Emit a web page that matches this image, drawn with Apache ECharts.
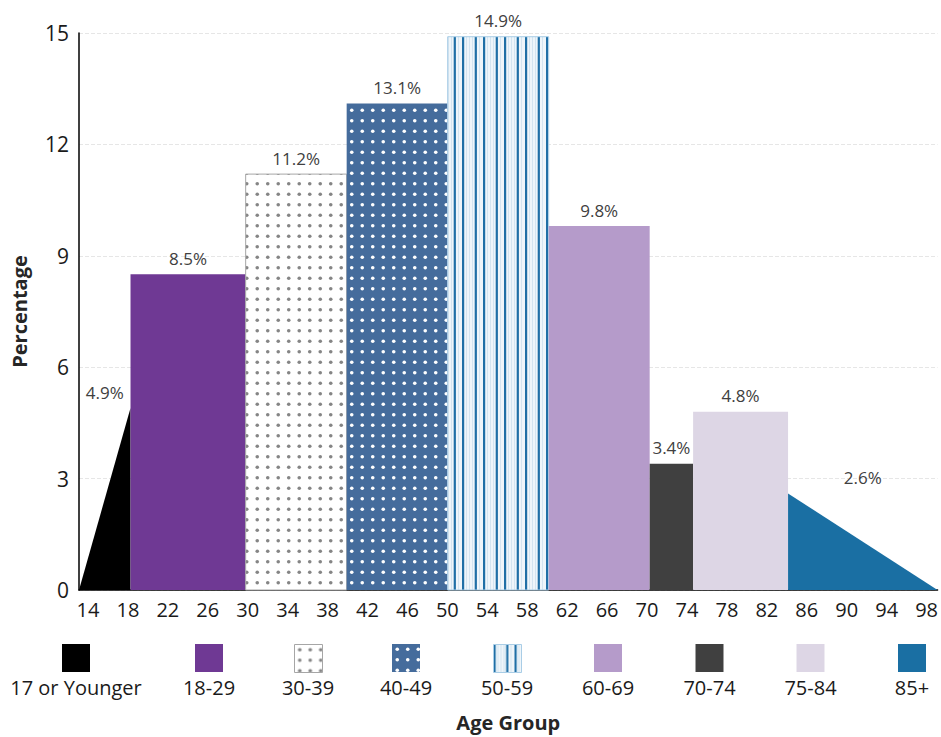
<!DOCTYPE html>
<html>
<head>
<meta charset="utf-8">
<script src="https://cdn.jsdelivr.net/npm/echarts@6/dist/echarts.min.js"></script>
<style>
html,body{margin:0;padding:0;background:#ffffff;}
#chart{width:941px;height:737px;}
</style>
</head>
<body>
<div id="chart"></div>
<script>
// ---------------- data ----------------
const groups = ['17 or Younger', '18-29', '30-39', '40-49', '50-59', '60-69', '70-74', '75-84', '85+'];
const binStart = [13.5, 18.6, 30, 40, 50, 60, 70, 74.3, 83.7];
const binEnd = [18.6, 30, 40, 50, 60, 70, 74.3, 83.7, 98.5];
const percents = [4.9, 8.5, 11.2, 13.1, 14.9, 9.8, 3.4, 4.8, 2.6];
const shapes = ['rise', 'rect', 'rect', 'rect', 'rect', 'rect', 'rect', 'rect', 'fall'];
const xTickLabels = [14, 18, 22, 26, 30, 34, 38, 42, 46, 50, 54, 58, 62, 66, 70, 74, 78, 82, 86, 90, 94, 98];

// ---------------- styles ----------------
const FONT = '"Open Sans", "Noto Sans", sans-serif';

function dotPattern(bg, dot, r) {
  const c = document.createElement('canvas');
  c.width = 21; c.height = 21;
  const g = c.getContext('2d');
  g.fillStyle = bg; g.fillRect(0, 0, 21, 21);
  g.fillStyle = dot;
  [[5.25, 5.25], [15.75, 5.25], [5.25, 15.75], [15.75, 15.75]].forEach(p => {
    g.beginPath(); g.arc(p[0], p[1], r, 0, Math.PI * 2); g.fill();
  });
  return { image: c, repeat: 'repeat', imageWidth: 21, imageHeight: 21 };
}
function stripePattern() {
  const c = document.createElement('canvas');
  c.width = 21; c.height = 4;
  const g = c.getContext('2d');
  g.fillStyle = '#eef5fa'; g.fillRect(0, 0, 21, 4);
  g.fillStyle = '#d3e4f0';
  [4, 7, 10, 17].forEach(x => g.fillRect(x, 0, 1, 4));
  g.fillStyle = '#1f6fa6';
  g.fillRect(0, 0, 2.2, 4);
  g.fillRect(12.7, 0, 2.2, 4);
  return { image: c, repeat: 'repeat', imageWidth: 21, imageHeight: 4 };
}

const fills = [
  '#000000',
  '#6f3994',
  dotPattern('#ffffff', '#858585', 1.8),
  dotPattern('#456c9c', '#ffffff', 1.8),
  stripePattern(),
  '#b59bca',
  '#404040',
  '#ddd6e5',
  '#1a6fa3'
];
const strokes = [null, null, '#a6a6a6', null, '#a9cde6', null, null, null, null];

// legend layout (pixel centres)
const legendCX = [76, 209, 308, 406, 507, 608, 709.5, 810.5, 912];

const chart = echarts.init(document.getElementById('chart'), null, { renderer: 'svg' });

const legendGraphics = [];
groups.forEach((g, i) => {
  legendGraphics.push({
    type: 'rect',
    left: legendCX[i] - 14, top: 644,
    shape: { width: 28, height: 28 },
    style: { fill: fills[i], stroke: strokes[i] || (i === 4 ? '#5b9bd5' : null), lineWidth: 1 }
  });
  legendGraphics.push({
    type: 'text',
    x: legendCX[i], y: 687,
    style: { text: g, fill: '#1a1a1a', font: '20px ' + FONT, align: 'center', verticalAlign: 'middle', textAlign: 'center', textVerticalAlign: 'middle' }
  });
});

const option = {
  animation: false,
  backgroundColor: '#ffffff',
  grid: { left: 79, right: 1, top: 33, bottom: 146, containLabel: false },
  xAxis: [
    {
      type: 'value', min: 13.5, max: 98.5,
      axisLine: { show: true, onZero: false, lineStyle: { color: '#000', width: 1.5 } },
      axisTick: { show: false }, axisLabel: { show: false }, splitLine: { show: false }
    },
    {
      type: 'value', min: 13.1, max: 99.1, position: 'bottom',
      axisLine: { show: false }, axisTick: { show: false }, splitLine: { show: false },
      axisLabel: { customValues: xTickLabels, fontSize: 20, color: '#1a1a1a', margin: 9, fontFamily: FONT },
      name: 'Age Group', nameLocation: 'middle', nameGap: 122,
      nameTextStyle: { fontSize: 20, fontWeight: 'bold', color: '#262626', fontFamily: FONT }
    }
  ],
  yAxis: {
    type: 'value', min: 0, max: 15, interval: 3,
    axisLine: { show: true, lineStyle: { color: '#000', width: 1.5 } },
    axisTick: { show: false },
    axisLabel: { fontSize: 21, color: '#1a1a1a', margin: 10, fontFamily: FONT },
    splitLine: { show: true, lineStyle: { type: 'dashed', color: '#e6e6e6', width: 1 } },
    name: 'Percentage', nameLocation: 'middle', nameGap: 50, nameRotate: 90,
    nameTextStyle: { fontSize: 20, fontWeight: 'bold', color: '#262626', fontFamily: FONT }
  },
  graphic: legendGraphics,
  series: [{
    type: 'custom',
    xAxisIndex: 0, yAxisIndex: 0,
    data: groups.map((g, i) => [binStart[i], binEnd[i], percents[i]]),
    renderItem: function (params, api) {
      const i = params.dataIndex;
      const x0 = api.value(0), x1 = api.value(1), v = api.value(2);
      const p00 = api.coord([x0, 0]), p10 = api.coord([x1, 0]);
      const p01 = api.coord([x0, v]), p11 = api.coord([x1, v]);
      let pts;
      if (shapes[i] === 'rise') pts = [p00, p10, p11];
      else if (shapes[i] === 'fall') pts = [p00, p01, p10];
      else pts = [p00, p01, p11, p10];
      return {
        type: 'group',
        children: [
          {
            type: 'polygon',
            shape: { points: pts },
            style: { fill: fills[i], stroke: strokes[i], lineWidth: strokes[i] ? 1 : 0 }
          },
          {
            type: 'text',
            x: (p00[0] + p10[0]) / 2,
            y: p01[1] - 16,
            style: {
              text: v.toFixed(1) + '%', fill: '#404040', font: '17px ' + FONT,
              align: 'center', verticalAlign: 'middle', textAlign: 'center', textVerticalAlign: 'middle'
            }
          }
        ]
      };
    }
  }]
};
chart.setOption(option);
</script>
</body>
</html>
